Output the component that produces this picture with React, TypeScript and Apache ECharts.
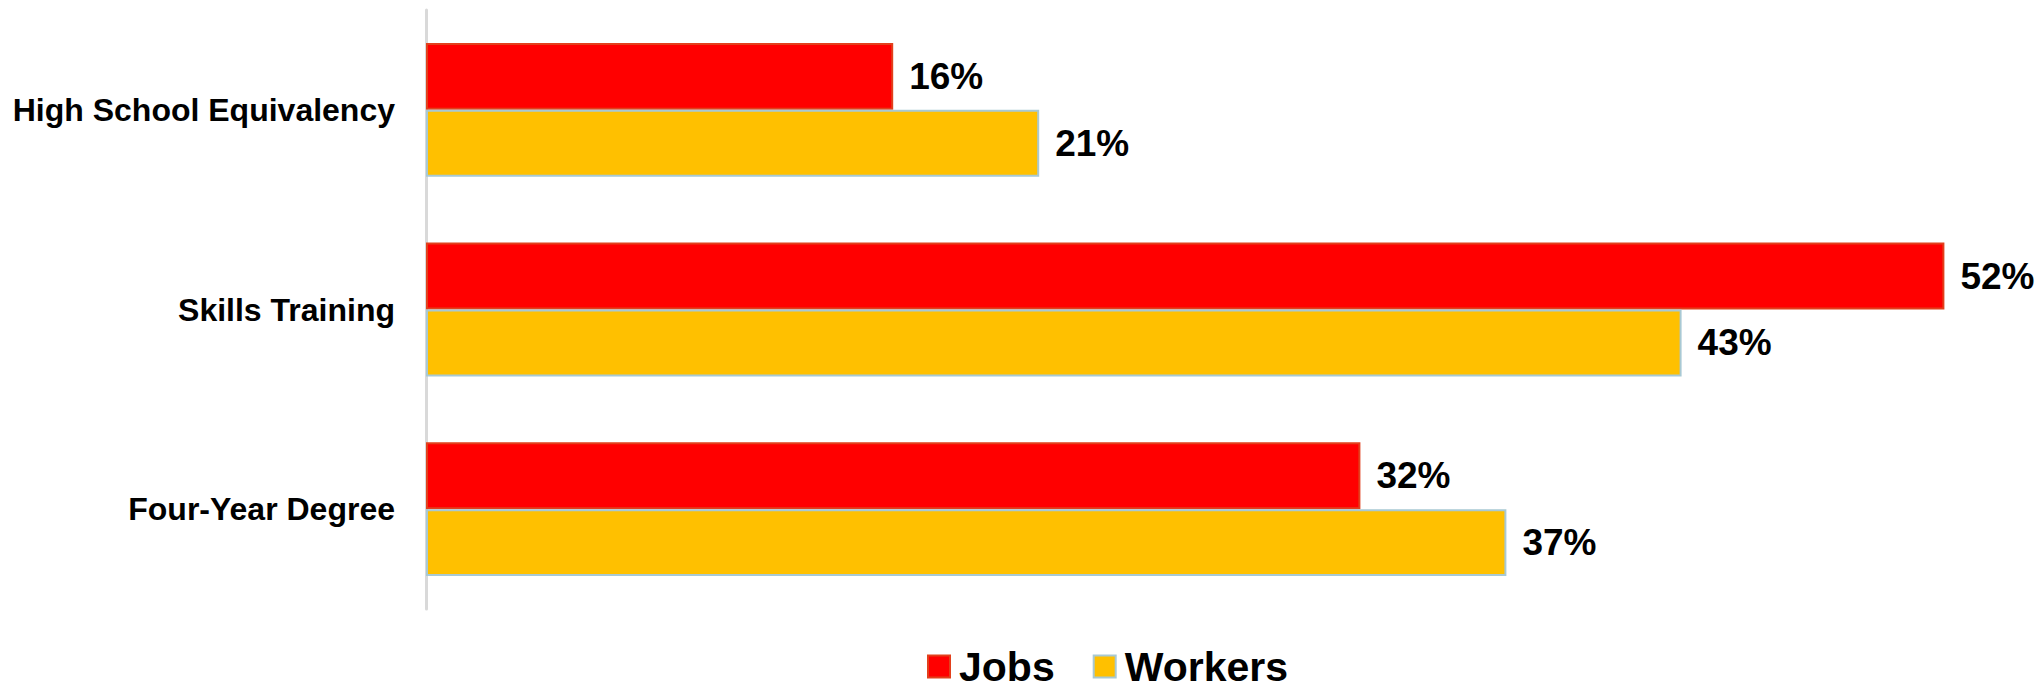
import React, { useEffect, useRef } from "react";
import * as echarts from "echarts";

const categories = ["High School Equivalency", "Skills Training", "Four-Year Degree"];
const jobs = [16, 52, 32];
const workers = [21, 43, 37];
const seriesNames = ["Jobs", "Workers"];

const FONT = "'Liberation Sans', Arial, sans-serif";

export default function App() {
  const ref = useRef<HTMLDivElement>(null);
  useEffect(() => {
    if (!ref.current) return;
    const chart = echarts.init(ref.current, undefined, { renderer: "svg" });
    const label = {
      show: true,
      position: "right",
      distance: 16,
      formatter: "{c}%",
      color: "#000",
      fontFamily: FONT,
      fontWeight: "bold",
      fontSize: 37,
    };
    chart.setOption({
      animation: false,
      grid: { left: 426, right: 12, top: 10, bottom: 79, containLabel: false },
      legend: {
        data: seriesNames,
        icon: "rect",
        left: 922,
        bottom: -4,
        itemWidth: 22,
        itemHeight: 22,
        itemGap: 38,
        textStyle: {
          fontFamily: FONT,
          fontWeight: "bold",
          fontSize: 41,
          color: "#000",
          padding: [0, 0, 0, 4],
        },
      },
      xAxis: {
        type: "value",
        min: 0,
        max: 55,
        show: false,
        splitLine: { show: false },
      },
      yAxis: {
        type: "category",
        data: categories,
        inverse: true,
        axisLine: { show: true, lineStyle: { color: "#d9d9d9", width: 3 } },
        axisTick: { show: false },
        axisLabel: {
          margin: 31,
          color: "#000",
          fontFamily: FONT,
          fontWeight: "bold",
          fontSize: 32,
        },
      },
      series: [
        {
          name: seriesNames[0],
          type: "bar",
          data: jobs,
          barGap: "0%",
          barCategoryGap: "33%",
          itemStyle: { color: "#ff0000", borderColor: "#e2401c", borderWidth: 2 },
          label,
        },
        {
          name: seriesNames[1],
          type: "bar",
          data: workers,
          barGap: "0%",
          barCategoryGap: "33%",
          itemStyle: { color: "#ffc000", borderColor: "#a8c9d4", borderWidth: 2 },
          label,
        },
      ],
    });
    return () => chart.dispose();
  }, []);
  return <div ref={ref} style={{ width: 2044, height: 688, position: "absolute", left: 0, top: 0 }} />;
}
